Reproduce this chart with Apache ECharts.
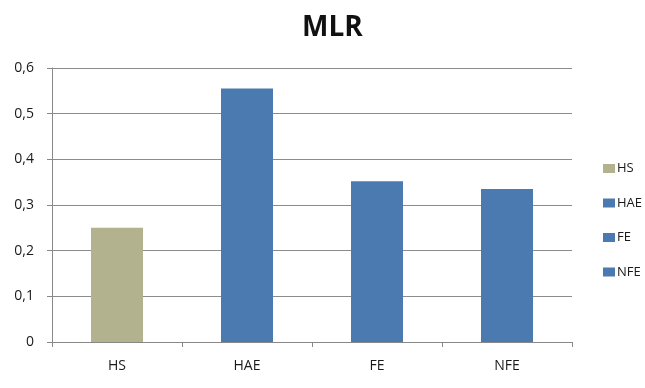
<!DOCTYPE html>
<html><head><meta charset="utf-8">
<script src="https://cdn.jsdelivr.net/npm/echarts@6/dist/echarts.min.js"></script>
<style>html,body{margin:0;padding:0;background:#fff}#c{width:645px;height:388px}</style>
</head><body><div id="c"></div>
<script>
const categories = ['HS', 'HAE', 'FE', 'NFE'];
const values = [0.25, 0.555, 0.352, 0.335];
const colors = ['#B3B28E', '#4A7AB0', '#4A7AB0', '#4A7AB0'];
const yTicks = [0, 0.1, 0.2, 0.3, 0.4, 0.5, 0.6];

const font = '"Open Sans", "Liberation Sans", sans-serif';
const series = categories.map((name, i) => ({
  name: name,
  type: 'bar',
  stack: 'all',
  barWidth: '40%',
  itemStyle: { color: colors[i] },
  data: categories.map((c, j) => j === i ? values[i] : '-')
}));

const chart = echarts.init(document.getElementById('c'));
chart.setOption({
  animation: false,
  title: {
    text: 'MLR', left: 297, top: 9,
    textStyle: { fontFamily: font, fontWeight: 'bold', fontSize: 28, color: '#111' }
  },
  legend: {
    orient: 'vertical', left: 598, top: 157,
    itemWidth: 12, itemHeight: 9, itemGap: 21.5,
    icon: 'rect',
    textStyle: { fontFamily: font, fontSize: 13, color: '#1a1a1a', padding: [0, 0, 0, -3] },
    data: categories
  },
  grid: { left: 52, right: 73, top: 68, bottom: 46 },
  xAxis: {
    type: 'category', data: categories,
    axisLine: { lineStyle: { color: '#888' } },
    axisTick: { show: true, length: 5, lineStyle: { color: '#888' } },
    axisLabel: { fontFamily: font, fontSize: 14, color: '#1a1a1a', margin: 17 }
  },
  yAxis: {
    type: 'value', min: 0, max: 0.6, interval: 0.1,
    axisLine: { show: true, lineStyle: { color: '#888' } },
    axisTick: { show: true, length: 5, lineStyle: { color: '#888' } },
    splitLine: { lineStyle: { color: '#8c8c8c' } },
    axisLabel: {
      fontFamily: font, fontSize: 14, color: '#1a1a1a', margin: 18,
      formatter: v => {
        const t = yTicks.find(x => Math.abs(x - v) < 1e-9);
        return t === 0 ? '0' : String(t !== undefined ? t : v).replace('.', ',');
      }
    }
  },
  series: series
});
</script></body></html>
